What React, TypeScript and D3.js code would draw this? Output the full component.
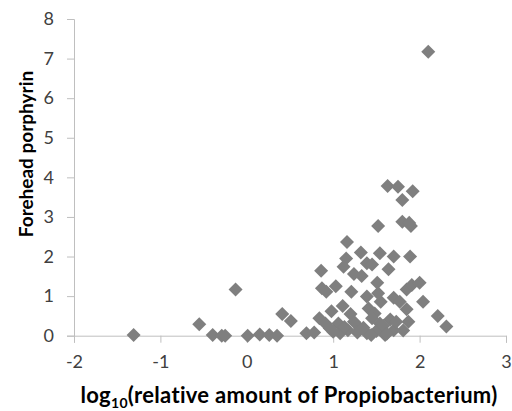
import React, { useEffect, useRef } from 'react';
import * as d3 from 'd3';

// log10 relative amount of Propiobacterium
const logAmount = [
  2.10, -1.31, -0.55, -0.395, -0.29, -0.25, -0.13, 0.01, 0.15, 0.26, 0.35, 0.41, 0.51,
  0.69, 0.78, 0.86, 0.84, 0.87, 0.92, 0.98, 1.03, 1.11, 1.16, 1.15, 1.12, 1.21, 1.20,
  1.24, 1.32, 1.33, 1.39, 1.45, 1.52, 1.54, 1.51, 1.39, 1.55, 1.52, 1.64, 1.63, 1.70,
  1.75, 1.80, 1.92, 1.80, 1.88, 1.90, 1.89, 1.70, 1.77, 1.85, 1.85, 1.91, 2.00, 2.04,
  2.21, 2.31, 1.87, 1.81, 1.41, 1.48, 1.31, 1.17, 1.06, 0.96, 1.08, 1.39, 1.60, 1.66,
  1.70, 1.73, 1.54, 1.45, 1.24, 0.91, 1.00, 1.13, 1.28, 1.35, 1.50, 1.58, 1.62, 1.44
];
// forehead porphyrin
const porphyrin = [
  7.17, 0.02, 0.29, 0.02, 0.0, 0.0, 1.17, 0.0, 0.03, 0.02, 0.0, 0.55, 0.37,
  0.06, 0.08, 1.64, 0.44, 1.20, 1.11, 0.62, 1.25, 0.75, 2.37, 1.95, 1.74, 1.11, 0.55,
  1.56, 2.10, 1.51, 1.83, 1.80, 2.77, 2.08, 1.34, 0.99, 0.86, 1.07, 1.68, 3.78, 2.00,
  3.76, 3.43, 3.65, 2.88, 2.85, 2.77, 2.00, 0.96, 0.86, 0.67, 1.17, 1.28, 1.34, 0.86,
  0.50, 0.23, 0.35, 0.13, 0.69, 0.56, 0.19, 0.14, 0.31, 0.19, 0.06, 0.06, 0.02, 0.41,
  0.14, 0.35, 0.31, 0.44, 0.35, 0.31, 0.10, 0.22, 0.08, 0.20, 0.12, 0.25, 0.05, 0.02
];

const xTicks = [-2, -1, 0, 1, 2, 3];
const yTicks = [0, 1, 2, 3, 4, 5, 6, 7, 8];

const App = () => {
  const ref = useRef<SVGSVGElement>(null);

  useEffect(() => {
    const svg = d3.select(ref.current);
    svg.selectAll('*').remove();

    const x = d3.scaleLinear().domain([-2, 3]).range([74, 506]);
    const y = d3.scaleLinear().domain([0, 8]).range([335.7, 19]);
    const axisColor = '#bfbfbf';
    const font = 'Lato, "Open Sans", sans-serif';

    // y axis
    const gy = svg.append('g').attr('transform', 'translate(74,0)')
      .call(d3.axisLeft(y).tickValues(yTicks).tickSize(7).tickPadding(13).tickFormat(d3.format('d')));
    gy.select('.domain').attr('stroke', axisColor);
    gy.selectAll('.tick line').attr('stroke', axisColor);
    gy.selectAll('.tick text').attr('fill', '#404040').style('font-family', font).style('font-size', '18px');

    // x axis
    const gx = svg.append('g').attr('transform', 'translate(0,335.7)')
      .call(d3.axisBottom(x).tickValues(xTicks).tickSize(7).tickPadding(13).tickFormat(d3.format('d')));
    gx.select('.domain').attr('stroke', axisColor);
    gx.selectAll('.tick line').attr('stroke', axisColor);
    gx.selectAll('.tick text').attr('fill', '#404040').style('font-family', font).style('font-size', '18px')
      .text((d: any) => (d < 0 ? '-' + Math.abs(d) : String(d)));

    // points (diamonds, ~14px across)
    const diamond = d3.symbol().type(d3.symbolDiamond2).size(125);
    svg.append('g').selectAll('path')
      .data(logAmount.map((v, i) => ({ x: v, y: porphyrin[i] })))
      .enter().append('path')
      .attr('d', diamond)
      .attr('transform', d => `translate(${x(d.x)},${y(d.y)})`)
      .attr('fill', '#7f7f7f');

    // y title
    svg.append('text')
      .attr('transform', 'translate(33,154) rotate(-90)')
      .attr('text-anchor', 'middle')
      .style('font-family', font).style('font-size', '19px').style('font-weight', 'bold')
      .text('Forehead porphyrin');

    // x title
    const t = svg.append('text')
      .attr('x', 289).attr('y', 403)
      .attr('text-anchor', 'middle')
      .style('font-family', font).style('font-size', '22px').style('font-weight', 'bold')
      .style('letter-spacing', '0.3px');
    t.append('tspan').text('log');
    t.append('tspan').attr('dy', 5).style('font-size', '14px').text('10');
    t.append('tspan').attr('dy', -5).text('(relative amount of Propiobacterium)');
  }, []);

  return <svg ref={ref} width={512} height={411} style={{ position: 'absolute', left: 0, top: 0 }} />;
};

export default App;
